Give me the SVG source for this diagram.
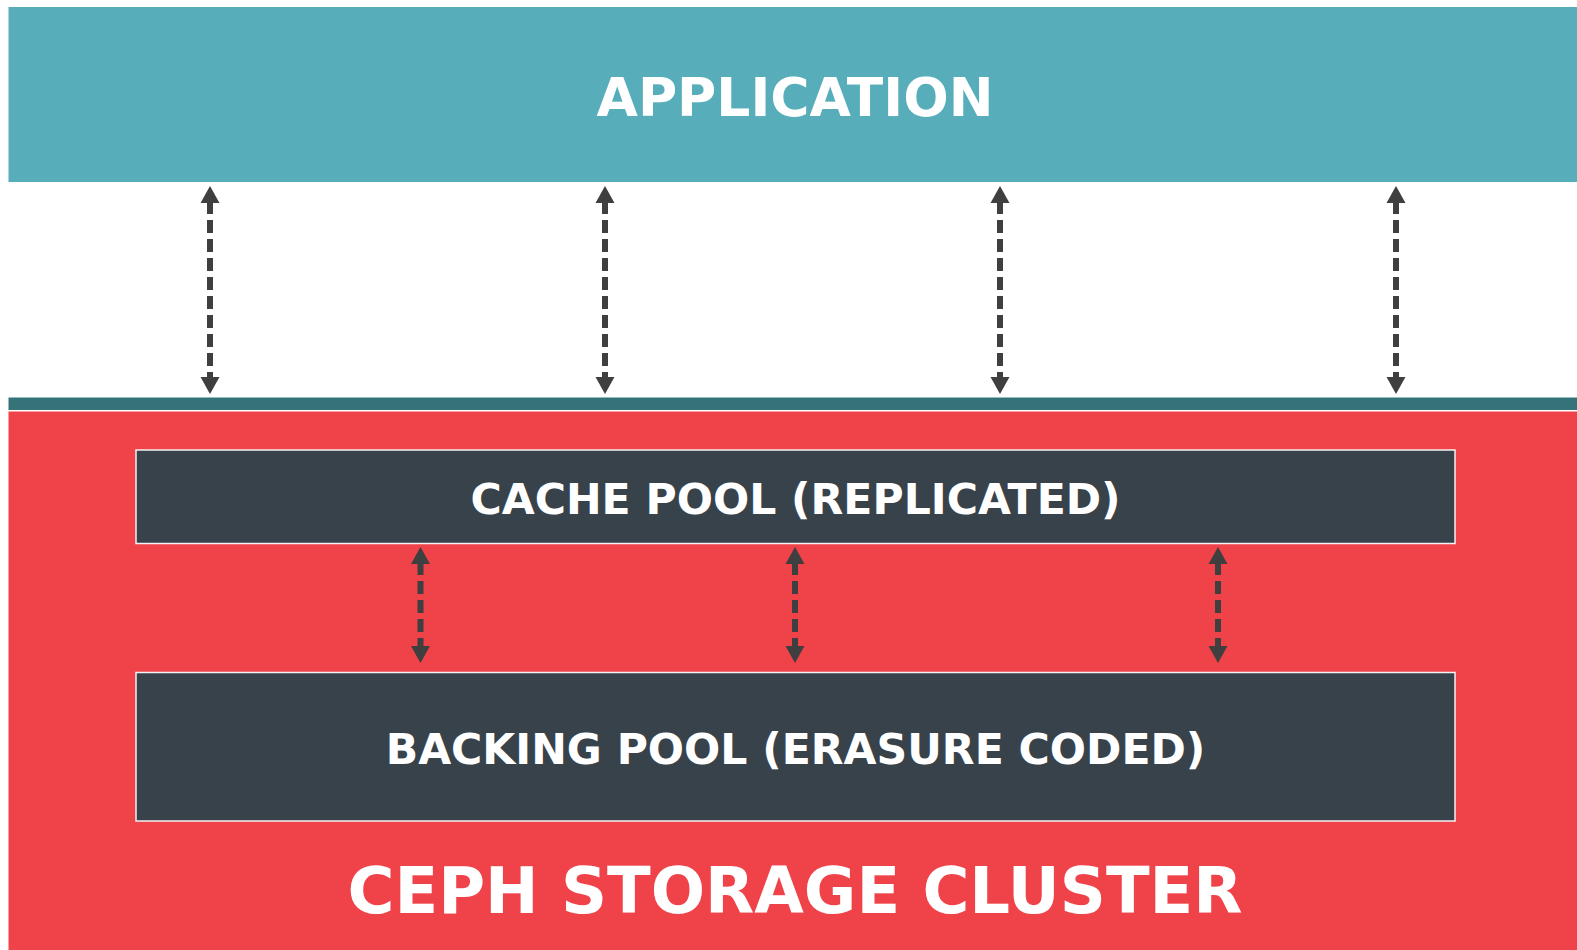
<svg xmlns="http://www.w3.org/2000/svg" width="1577" height="950" viewBox="0 0 1577 950">
  <style>
    .t { font-family: "DejaVu Sans", "Liberation Sans", sans-serif; font-weight: bold; fill: #ffffff; text-anchor: middle; }
    .pool { fill: #38424b; stroke: #f2f2f2; stroke-width: 1.5; }
    .conn { fill: none; stroke: #3f3f3f; stroke-width: 6; stroke-dasharray: 13 6; }
  </style>
  <defs>
    <marker id="head" markerUnits="userSpaceOnUse" markerWidth="20" markerHeight="20" viewBox="0 -10 20 20" refX="2" refY="0" orient="auto-start-reverse" overflow="visible">
      <path d="M0,-9.5 L17,0 L0,9.5 Z" fill="#3f3f3f"/>
    </marker>
  </defs>
  <rect x="0" y="0" width="1577" height="950" fill="#ffffff"/>
  <g id="application">
    <rect x="8.5" y="7" width="1568.5" height="175" fill="#57aeba"/>
    <text class="t" x="795" y="116" font-size="53.5">APPLICATION</text>
  </g>
  <g id="cluster">
    <rect x="8.5" y="397.5" width="1568.5" height="12.5" fill="#347479"/>
    <rect x="8.5" y="411.5" width="1568.5" height="538.5" fill="#f04349"/>
    <text class="t" x="795" y="913" font-size="64">CEPH STORAGE CLUSTER</text>
  </g>
  <g id="cache-pool">
    <rect class="pool" x="136" y="450" width="1319" height="93.5"/>
    <text class="t" x="795.5" y="514" font-size="42.6">CACHE POOL (REPLICATED)</text>
  </g>
  <g id="backing-pool">
    <rect class="pool" x="136" y="672.5" width="1319" height="148.5"/>
    <text class="t" x="795.5" y="764" font-size="42.6">BACKING POOL (ERASURE CODED)</text>
  </g>
  <g id="connectors">
    <path class="conn" d="M210,201 L210,379" marker-start="url(#head)" marker-end="url(#head)"/>
    <path class="conn" d="M605,201 L605,379" marker-start="url(#head)" marker-end="url(#head)"/>
    <path class="conn" d="M1000,201 L1000,379" marker-start="url(#head)" marker-end="url(#head)"/>
    <path class="conn" d="M1396,201 L1396,379" marker-start="url(#head)" marker-end="url(#head)"/>
    <path class="conn" d="M420.5,562 L420.5,648" marker-start="url(#head)" marker-end="url(#head)"/>
    <path class="conn" d="M795,562 L795,648" marker-start="url(#head)" marker-end="url(#head)"/>
    <path class="conn" d="M1218,562 L1218,648" marker-start="url(#head)" marker-end="url(#head)"/>
  </g>
</svg>
